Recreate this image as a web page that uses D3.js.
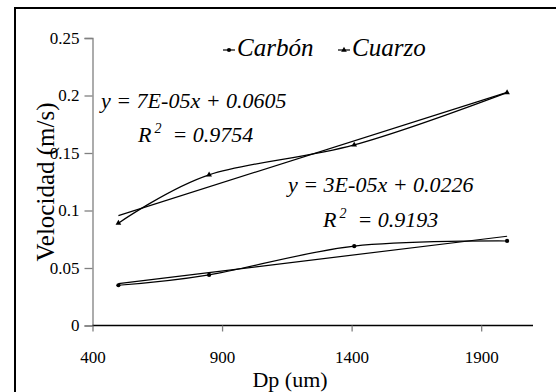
<!DOCTYPE html>
<html>
<head>
<meta charset="utf-8">
<script src="https://cdn.jsdelivr.net/npm/d3@7"></script>
<style>
body{margin:0;background:#fff}
</style>
</head>
<body>
<svg id="graph"></svg>
<script>
// values
var dp = [500, 850, 1410, 2000]
var carbon = [0.035, 0.044, 0.069, 0.0735]
var cuarzo = [0.089, 0.131, 0.157, 0.2025]
var seriesNames = ["Carbón", "Cuarzo"]
var xTicks = [400, 900, 1400, 1900]
var yTicks = [0, 0.05, 0.1, 0.15, 0.2, 0.25]
var eqCarbon = ["y = 3E-05x + 0.0226", "0.9193"]
var eqCuarzo = ["y = 7E-05x + 0.0605", "0.9754"]

var serif = "'Liberation Serif', 'Times New Roman', serif"
var screen = {width:556, height:392}
var svg = d3.select("#graph")
  .attr("width", screen.width)
  .attr("height", screen.height)
  .style("font-family", serif)

// outer frame, runs off the right and bottom edge
svg.append("rect")
  .attr("x", 15).attr("y", 8)
  .attr("width", 620).attr("height", 460)
  .attr("fill", "none")
  .attr("stroke", "#000")
  .attr("stroke-width", 2)

var xscale = d3.scaleLinear()
  .domain([400, 2100])
  .range([92.5, 533])

var yscale = d3.scaleLinear()
  .domain([0, 0.25])
  .range([325.5, 38])

// y axis
var yAxis = svg.append("g")
  .attr("transform", "translate(92.5,0)")
  .call(d3.axisLeft(yscale).tickValues(yTicks).tickSize(8).tickPadding(5)
    .tickFormat(function(d){return String(+d.toFixed(2))}))
yAxis.attr("font-family", null).attr("font-size", null)
yAxis.select(".domain").attr("stroke", "#808080").attr("stroke-width", 1.3)
yAxis.selectAll(".tick line").attr("stroke", "#808080").attr("stroke-width", 1.3)
yAxis.selectAll("text").style("font-family", serif).style("font-size", "17px").attr("fill", "#000")

// x axis
var xAxis = svg.append("g")
  .attr("transform", "translate(0,325.5)")
  .call(d3.axisBottom(xscale).tickValues(xTicks).tickSize(6).tickPadding(19)
    .tickFormat(d3.format("d")))
xAxis.attr("font-family", null).attr("font-size", null)
xAxis.select(".domain").attr("stroke", "#000").attr("stroke-width", 1.3)
  .attr("d", "M" + xscale(400) + ",0H" + xscale(2100))
xAxis.selectAll(".tick line").attr("stroke", "#808080").attr("stroke-width", 1.3)
xAxis.selectAll("text").style("font-family", serif).style("font-size", "17px").attr("fill", "#000")

// axis titles
svg.append("text")
  .attr("x", 290).attr("y", 387)
  .attr("text-anchor", "middle")
  .style("font-family", serif)
  .style("font-size", "22px")
  .text("Dp (um)")

svg.append("text")
  .attr("transform", "translate(54,182) rotate(-90)")
  .attr("text-anchor", "middle")
  .style("font-family", serif)
  .style("font-size", "25px")
  .text("Velocidad (m/s)")

// least squares line for each series
var fit = function(xs, ys)
{
  var mx = d3.mean(xs), my = d3.mean(ys)
  var sxy = d3.sum(xs, function(x, i){return (x - mx) * (ys[i] - my)})
  var sxx = d3.sum(xs, function(x){return (x - mx) * (x - mx)})
  var b = sxy / sxx
  return {b:b, a:my - b * mx}
}

var line = d3.line()
  .x(function(d){return xscale(d[0])})
  .y(function(d){return yscale(d[1])})
  .curve(d3.curveCardinal.tension(0))

var drawSeries = function(vals, symbol)
{
  var pts = dp.map(function(x, i){return [x, vals[i]]})
  svg.append("path")
    .attr("d", line(pts))
    .attr("fill", "none")
    .attr("stroke", "#000")
    .attr("stroke-width", 1.2)

  var f = fit(dp, vals)
  var x0 = d3.min(dp), x1 = d3.max(dp)
  svg.append("line")
    .attr("x1", xscale(x0)).attr("y1", yscale(f.a + f.b * x0))
    .attr("x2", xscale(x1)).attr("y2", yscale(f.a + f.b * x1))
    .attr("stroke", "#000")
    .attr("stroke-width", 1.2)

  svg.selectAll(null)
    .data(pts)
    .enter()
    .append("path")
    .attr("transform", function(d){return "translate(" + xscale(d[0]) + "," + yscale(d[1]) + ")"})
    .attr("d", d3.symbol().type(symbol).size(14))
    .attr("fill", "#000")
}

drawSeries(carbon, d3.symbolCircle)
drawSeries(cuarzo, d3.symbolTriangle)

// equations
var drawEq = function(eq, x1, y1, x2, y2)
{
  svg.append("text")
    .attr("x", x1).attr("y", y1)
    .style("font-family", serif)
    .style("font-size", "22px").style("font-style", "italic")
    .text(eq[0])
  var t = svg.append("text")
    .attr("x", x2).attr("y", y2)
    .style("font-family", serif)
    .style("font-size", "22px").style("font-style", "italic")
  t.append("tspan").text("R")
  t.append("tspan").attr("dx", 3).attr("dy", -9).style("font-size", "14px").text("2")
  t.append("tspan").attr("dy", 9).text("\u00a0 = " + eq[1])
}
drawEq(eqCuarzo, 101, 108, 138, 142)
drawEq(eqCarbon, 288, 192, 323, 227)

// legend
var legend = svg.append("g")
var legX = [223, 338]
var legSym = [d3.symbolCircle, d3.symbolTriangle]
seriesNames.forEach(function(name, i)
{
  legend.append("line")
    .attr("x1", legX[i]).attr("x2", legX[i] + 12)
    .attr("y1", 50).attr("y2", 50)
    .attr("stroke", "#000").attr("stroke-width", 1.2)
  legend.append("path")
    .attr("transform", "translate(" + (legX[i] + 6) + ",50)")
    .attr("d", d3.symbol().type(legSym[i]).size(14))
    .attr("fill", "#000")
  legend.append("text")
    .attr("x", legX[i] + 14).attr("y", 56)
    .style("font-family", serif)
    .style("font-size", "25px").style("font-style", "italic")
    .text(name)
})
</script>
</body>
</html>
